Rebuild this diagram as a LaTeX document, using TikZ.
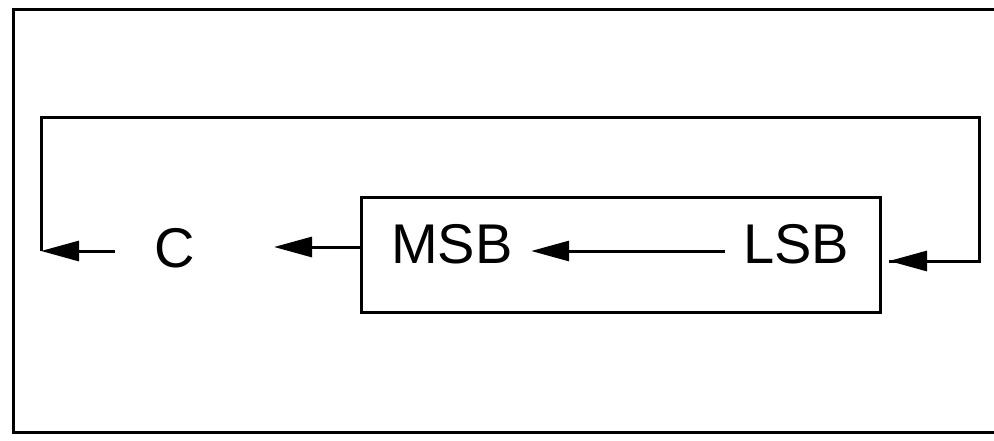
\documentclass[tikz,border=0pt]{standalone}
\usepackage{fontspec}
\setmainfont{Liberation Sans}
\usetikzlibrary{arrows.meta,calc}
\begin{document}
\begin{tikzpicture}[x=1pt,y=-1pt,
  line width=3pt,
  lbl/.style={inner sep=0pt,font=\fontsize{56}{60}\selectfont},
  arr/.style={-{Triangle[length=38pt,width=20pt]}},
  regbox/.style={draw,inner sep=0pt,minimum width=519pt,minimum height=115pt}]
\useasboundingbox (0,0) rectangle (994,440);
\fill[white] (0,0) rectangle (994,440);
% outer frame (open on the right)
\draw (994,9) -- (13,9) -- (13,432) -- (994,432);
% register box
\node[regbox] (box) at (621,255) {};
% labels
\node[lbl] (C) at (175,248) {C};
\node[lbl] (msb) at (452,244) {MSB};
\node[lbl] (lsb) at (796,244) {LSB};
% loop corners
\coordinate (cl) at (41,251);
\coordinate (tl) at (41,117);
\coordinate (tr) at (979,117);
\coordinate (br) at (979,261);
\coordinate (tipR) at (889,261);
\coordinate (cstart) at (115,251);
\coordinate (tipC) at (274,247);
% connectors
\draw[arr] (cstart) -- (cl);
\draw (cl) -- (tl) -- (tr) -- (br) -- (tipR);
\draw[arr] (br) -- (tipR);
\draw[arr] (box.west |- tipC) -- (tipC);
\draw[arr,shorten >=17pt,shorten <=17pt] ($(lsb.west)+(0,7)$) -- ($(msb.east)+(0,7)$);
\end{tikzpicture}
\end{document}
